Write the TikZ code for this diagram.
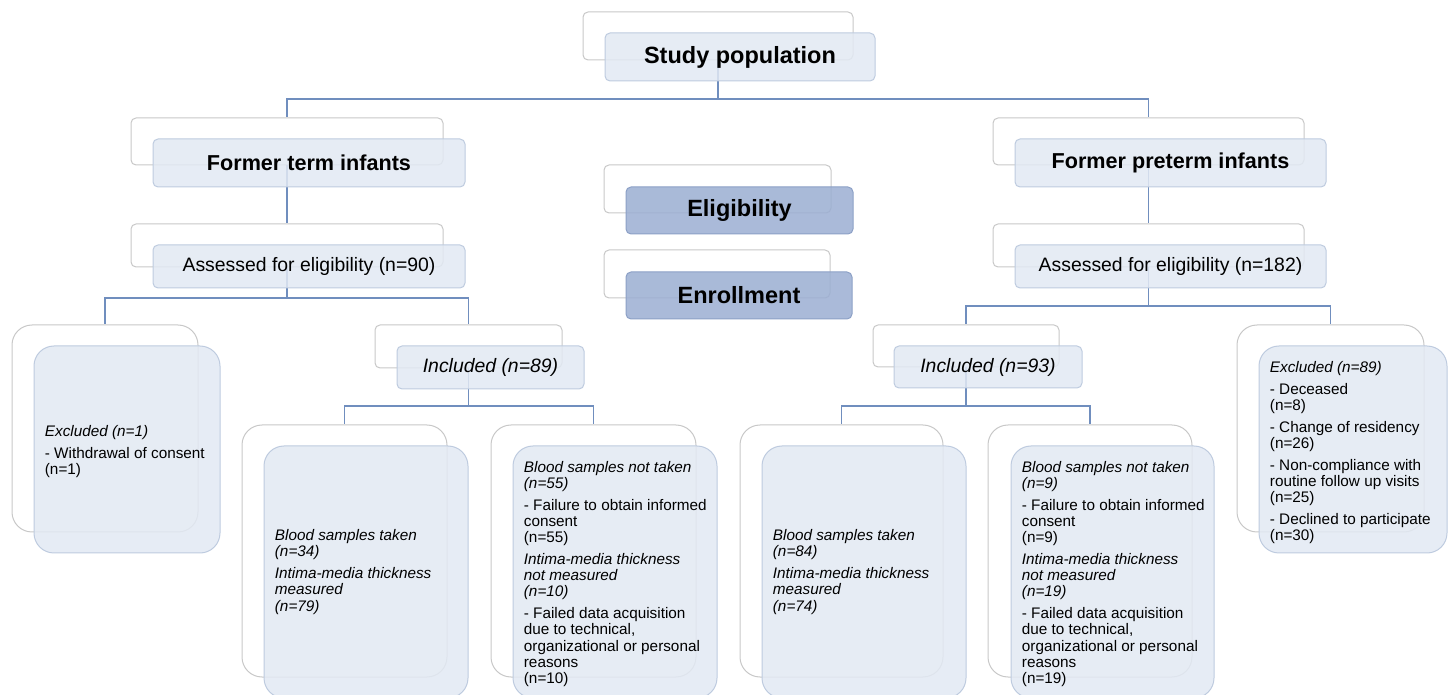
\documentclass[tikz,border=0pt]{standalone}
\usepackage{fontspec}
\setmainfont{Liberation Sans}
\definecolor{backgray}{RGB}{200,200,200}
\definecolor{frontfill}{RGB}{226,233,243}
\definecolor{frontborder}{RGB}{190,203,223}
\definecolor{darkfill}{RGB}{155,174,210}
\definecolor{darkborder}{RGB}{140,160,198}
\definecolor{connblue}{RGB}{112,142,190}
\newcommand\boxat[7]{\node[#6, minimum width={(#4-#2)*0.5pt}, minimum height={(#5-#3)*0.5pt}] (#1) at ({(#2+#4)/2},{(#3+#5)/2}) {#7};}
\tikzset{
  backbox/.style={draw=backgray, fill=white, line width=0.5pt, rounded corners=2.5pt, inner sep=0pt},
  frontbox/.style={draw=frontborder, fill=frontfill, fill opacity=0.85, text opacity=1, line width=0.5pt, rounded corners=2.5pt, inner sep=0pt},
  darkbox/.style={frontbox, draw=darkborder, fill=darkfill},
  bigr/.style={rounded corners=10pt},
  conn/.style={draw=connblue, line width=0.7pt},
  headbig/.style={font=\fontsize{11.75}{14}\selectfont\bfseries},
  headmid/.style={font=\fontsize{10.8}{13}\selectfont\bfseries},
  plain/.style={font=\fontsize{9.7}{11.5}\selectfont},
  txt/.style={align=left, inner sep=0pt, font=\fontsize{7.65}{8.1}\selectfont}
}
\begin{document}
\begin{tikzpicture}[x=0.5pt,y=-0.5pt]
\useasboundingbox (0,0) rectangle (1448,695);
\clip (0,0) rectangle (1448,695);
% back boxes
\boxat{spb}{583}{12}{853}{60}{backbox}{}
\boxat{ftb}{131}{118}{443}{165}{backbox}{}
\boxat{fpb}{993}{118}{1304}{165}{backbox}{}
\boxat{elb}{604}{165}{831}{213}{backbox}{}
\boxat{enb}{604}{250}{830}{298}{backbox}{}
\boxat{alb}{131}{224}{443}{267}{backbox}{}
\boxat{arb}{993}{224}{1304}{267}{backbox}{}
\boxat{exlb}{12}{325}{198}{532}{backbox,bigr}{}
\boxat{inlb}{375}{325}{562}{368}{backbox}{}
\boxat{inrb}{873}{325}{1059}{367}{backbox}{}
\boxat{exrb}{1237}{325}{1424}{532}{backbox,bigr}{}
\boxat{btlb}{242}{425}{447}{677}{backbox,bigr}{}
\boxat{bnlb}{491}{425}{696}{677}{backbox,bigr}{}
\boxat{btrb}{740}{425}{943}{677}{backbox,bigr}{}
\boxat{bnrb}{988}{425}{1192}{677}{backbox,bigr}{}
% bus coordinates
\coordinate (bus1) at (0,99);
\coordinate (bus2) at (0,298);
\coordinate (bus3) at (0,306);
\coordinate (bus4) at (0,406);
\coordinate (bus5) at (0,406);
% connectors
\draw[conn] (spb.south) -- (spb.south |- bus1) -| (ftb.north);
\draw[conn] (spb.south |- bus1) -| (fpb.north);
\draw[conn] (ftb.south) -- (alb.north);
\draw[conn] (fpb.south) -- (arb.north);
\draw[conn] (alb.south) -- (alb.south |- bus2) -| (exlb.north);
\draw[conn] (alb.south |- bus2) -| (inlb.north);
\draw[conn] (arb.south) -- (arb.south |- bus3) -| (inrb.north);
\draw[conn] (arb.south |- bus3) -| (exrb.north);
\draw[conn] (inlb.south) -- (inlb.south |- bus4) -| (btlb.north);
\draw[conn] (inlb.south |- bus4) -| (bnlb.north);
\draw[conn] (inrb.south) -- (inrb.south |- bus5) -| (btrb.north);
\draw[conn] (inrb.south |- bus5) -| (bnrb.north);
% front boxes
\boxat{spf}{605}{33}{875}{81}{frontbox,headbig}{Study population}
\boxat{ftf}{153}{139}{465}{187}{frontbox,headmid}{Former term infants}
\boxat{fpf}{1015}{139}{1326}{187}{frontbox,headmid}{Former preterm infants}
\boxat{elf}{626}{187}{853}{234}{darkbox,headbig}{Eligibility}
\boxat{enf}{626}{272}{852}{319}{darkbox,headbig}{Enrollment}
\boxat{alf}{153}{245}{465}{288}{frontbox,plain}{Assessed for eligibility (n=90)}
\boxat{arf}{1015}{245}{1326}{288}{frontbox,plain}{Assessed for eligibility (n=182)}
\boxat{exlf}{34}{346}{220}{553}{frontbox,bigr}{}
\boxat{inlf}{397}{346}{584}{389}{frontbox,plain}{\textit{Included (n=89)}}
\boxat{inrf}{894}{346}{1082}{388}{frontbox,plain}{\textit{Included (n=93)}}
\boxat{exrf}{1259}{346}{1447}{553}{frontbox,bigr}{}
\boxat{btlf}{264}{446}{468}{698}{frontbox,bigr}{}
\boxat{bnlf}{513}{446}{717}{698}{frontbox,bigr}{}
\boxat{btrf}{762}{446}{966}{698}{frontbox,bigr}{}
\boxat{bnrf}{1011}{446}{1214}{698}{frontbox,bigr}{}
% texts in the large boxes
\node[txt, anchor=west] (exlt) at ([xshift=5.5pt,yshift=-1.2pt]exlf.west)
  {\textit{Excluded (n=1)}\\[2.8pt] - Withdrawal of consent\\(n=1)};
\node[txt, anchor=west] (exrt) at ([xshift=5.5pt,yshift=-1.5pt]exrf.west)
  {\textit{Excluded (n=89)}\\[2.8pt] - Deceased\\(n=8)\\[2.8pt] - Change of residency\\(n=26)\\[2.8pt] - Non-compliance with\\routine follow up visits\\(n=25)\\[2.8pt] - Declined to participate\\(n=30)};
\node[txt, anchor=west] (btlt) at ([xshift=5.5pt]btlf.west)
  {\textit{Blood samples taken}\\\textit{(n=34)}\\[2.8pt] \textit{Intima-media thickness}\\\textit{measured}\\\textit{(n=79)}};
\node[txt, anchor=west] (btrt) at ([xshift=5.5pt]btrf.west)
  {\textit{Blood samples taken}\\\textit{(n=84)}\\[2.8pt] \textit{Intima-media thickness}\\\textit{measured}\\\textit{(n=74)}};
\node[txt, anchor=west] (bnlt) at ([xshift=5.5pt,yshift=-1pt]bnlf.west)
  {\textit{Blood samples not taken}\\\textit{(n=55)}\\[2.8pt] - Failure to obtain informed\\consent\\(n=55)\\[2.8pt] \textit{Intima-media thickness}\\\textit{not measured}\\\textit{(n=10)}\\[2.8pt] - Failed data acquisition\\due to technical,\\organizational or personal\\reasons\\(n=10)};
\node[txt, anchor=west] (bnrt) at ([xshift=5.5pt,yshift=-1pt]bnrf.west)
  {\textit{Blood samples not taken}\\\textit{(n=9)}\\[2.8pt] - Failure to obtain informed\\consent\\(n=9)\\[2.8pt] \textit{Intima-media thickness}\\\textit{not measured}\\\textit{(n=19)}\\[2.8pt] - Failed data acquisition\\due to technical,\\organizational or personal\\reasons\\(n=19)};
\end{tikzpicture}
\end{document}
